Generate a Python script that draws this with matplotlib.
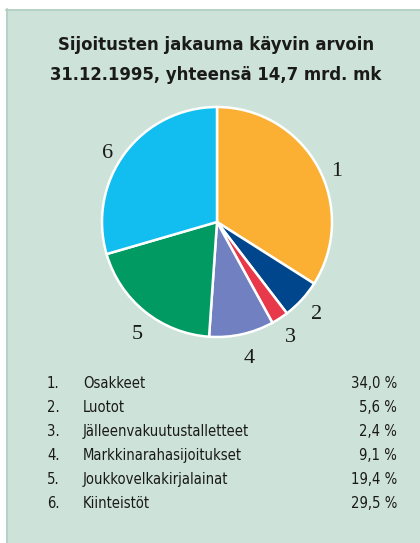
import matplotlib
matplotlib.use("Agg")
import matplotlib.pyplot as plt
from matplotlib.patches import Rectangle
import numpy as np

title_lines = ["Sijoitusten jakauma käyvin arvoin", "31.12.1995, yhteensä 14,7 mrd. mk"]
numbers = ["1", "2", "3", "4", "5", "6"]
categories = ["Osakkeet", "Luotot", "Jälleenvakuutustalletteet",
              "Markkinarahasijoitukset", "Joukkovelkakirjalainat", "Kiinteistöt"]
values = [34.0, 5.6, 2.4, 9.1, 19.4, 29.5]
colors = ["#fbb034", "#00468c", "#e8394a", "#7080c0", "#009a62", "#12bdf0"]

# label placement tweaks (angle offset in degrees, radial distance)
label_dang = [-5, 0.5, 0, 1, 3, 4]
label_dist = [1.14, 1.17, 1.17, 1.20, 1.18, 1.13]

W, H = 420, 543
fig = plt.figure(figsize=(W / 100, H / 100), dpi=100)
fig.patch.set_facecolor("white")

bgax = fig.add_axes([0, 0, 1, 1], zorder=-10)
bgax.set_xlim(0, W)
bgax.set_ylim(H, 0)
bgax.axis("off")
bg = "#cde2d9"
bgax.add_patch(Rectangle((6, 9), W - 6, H - 9, facecolor=bg, edgecolor="none"))
bgax.plot([6, W], [9.5, 9.5], color="#b2cec3", lw=1.2)
bgax.plot([6.5, 6.5], [9, H], color="#b2cec3", lw=1.2)

for i, line in enumerate(title_lines):
    fig.text(216 / W, 1 - (50 + 30 * i) / H, line, ha="center", va="baseline",
             fontsize=13.2, fontweight="bold", fontstretch="condensed", family="DejaVu Sans",
             color="#1a1a1a")

# Pie
cx, cy, r = 217, 222, 115
ax = fig.add_axes([(cx - r) / W, (H - cy - r) / H, 2 * r / W, 2 * r / H], zorder=1)
ax.set_facecolor("none")
wedges, _ = ax.pie(values, colors=colors, startangle=90, counterclock=False,
                   wedgeprops=dict(edgecolor="white", linewidth=1.8))
ax.set_xlim(-1, 1)
ax.set_ylim(-1, 1)
ax.set_aspect("equal")
ax.axis("off")
for w, num, da, d in zip(wedges, numbers, label_dang, label_dist):
    ang = np.deg2rad((w.theta1 + w.theta2) / 2 + da)
    ax.text(d * np.cos(ang), d * np.sin(ang), num, ha="center", va="center_baseline",
            fontsize=16, family="Liberation Serif", color="#1a1a1a", clip_on=False)

# Legend table
y0, dy = 387.5, 24.2
for i, (num, cat, val) in enumerate(zip(numbers, categories, values)):
    y = 1 - (y0 + dy * i) / H
    kw = dict(va="baseline", fontsize=10.6, family="DejaVu Sans", fontstretch="condensed",
              color="#1a1a1a")
    fig.text(47 / W, y, num + ".", ha="left", **kw)
    fig.text(83 / W, y, cat, ha="left", **kw)
    fig.text(397 / W, y, f"{val:.1f}".replace(".", ",") + " %", ha="right", **kw)

fig.savefig("out.png", dpi=100, facecolor="white")
